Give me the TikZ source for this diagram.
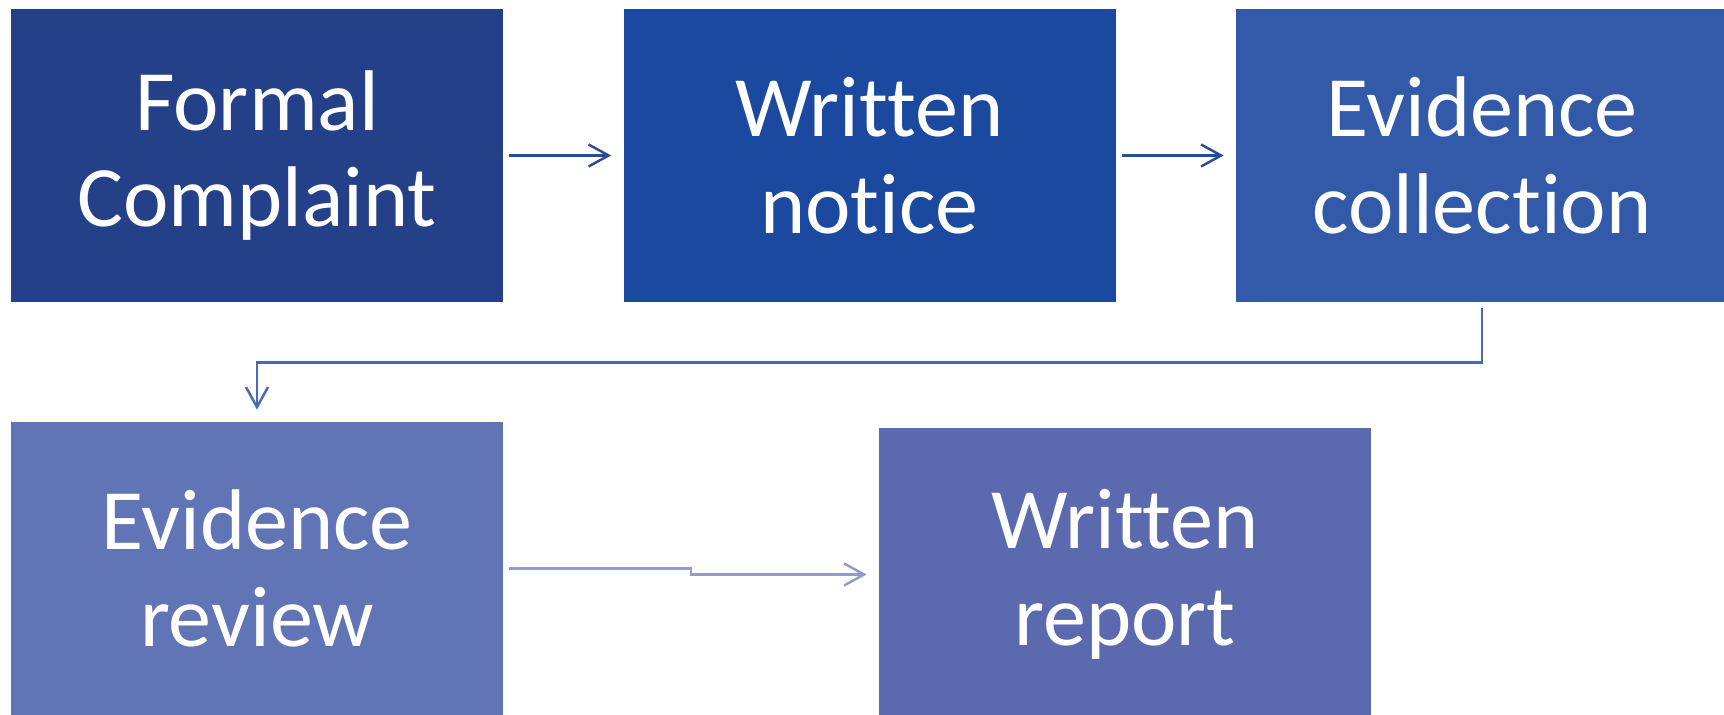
\documentclass[tikz,border=0pt]{standalone}
\usepackage{fontspec}
\setmainfont{Carlito}[Ligatures=NoCommon]
\usetikzlibrary{positioning, arrows.meta, calc}

\definecolor{stepA}{RGB}{36,64,136}
\definecolor{stepB}{RGB}{27,73,160}
\definecolor{stepC}{RGB}{50,90,168}
\definecolor{stepD}{RGB}{96,116,182}
\definecolor{stepE}{RGB}{91,105,174}
\definecolor{linkA}{RGB}{42,74,154}
\definecolor{linkB}{RGB}{74,104,184}
\definecolor{linkC}{RGB}{147,155,203}

\begin{document}
\begin{tikzpicture}[
    stepbox/.style={rectangle, inner sep=0pt, minimum width=9.84cm, minimum height=5.86cm,
        text=white, align=center, font=\fontsize{49}{55}\selectfont},
    link/.style={-{Straight Barb[length=4mm, width=4.4mm]}, line width=1.4pt,
        shorten <=0.12cm, shorten >=0.24cm}
]

% Page frame
\useasboundingbox (0, 0) rectangle (34.48, 14.3);

% === First row ===
\node[stepbox, fill=stepA] (complaint) at (5.14, 11.19) {Formal\\Complaint};
\node[stepbox, fill=stepB] (notice) at (17.39, 11.19) {Written\\notice};
\node[stepbox, fill=stepC] (collection) at (29.64, 11.19) {Evidence\\collection};

% === Second row ===
\node[stepbox, fill=stepD] (review) at (5.14, 2.93) {Evidence\\review};
\node[stepbox, fill=stepE] (report) at (22.5, 2.81) {Written\\report};

% === Connectors ===
\draw[link, linkA] (complaint.east) -- (notice.west);
\draw[link, linkA] (notice.east) -- (collection.west);
\draw[link, linkB] (collection.south) -- ++(0, -1.2) -| (review.north);
\draw[link, linkC] (review.east) -| ($(review.east)!0.5!(report.west)$) |- (report.west);

\end{tikzpicture}
\end{document}
